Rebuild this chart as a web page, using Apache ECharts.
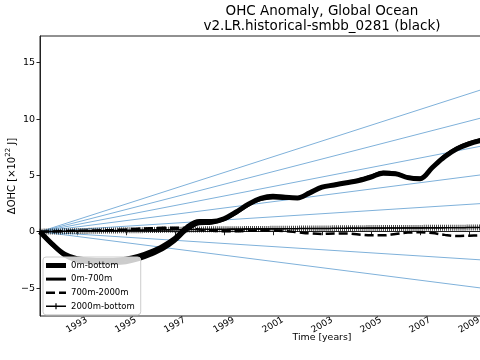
<!DOCTYPE html>
<html>
<head>
<meta charset="utf-8">
<script src="https://cdn.jsdelivr.net/npm/echarts@6/dist/echarts.min.js"></script>
<style>
html,body{margin:0;padding:0;background:#fff;}
#main{width:480px;height:360px;}
</style>
</head>
<body>
<div id="main"></div>
<script>
// ---- data ----
const titleLines = ['OHC Anomaly, Global Ocean', 'v2.LR.historical-smbb_0281 (black)'];
const xTickYears = [1993, 1995, 1997, 1999, 2001, 2003, 2005, 2007, 2009];
const yTickValues = [-5, 0, 5, 10, 15];
const seriesNames = ['0m-bottom', '0m-700m', '700m-2000m', '2000m-bottom'];

const yearsMain = [1991.5, 1992.0, 1992.5, 1993.0, 1993.5, 1994.0, 1994.5, 1995.0, 1995.5, 1996.0,
  1996.5, 1997.0, 1997.5, 1998.0, 1998.5, 1999.0, 1999.5, 2000.0, 2000.5, 2001.0,
  2001.5, 2002.0, 2002.5, 2003.0, 2003.5, 2004.0, 2004.5, 2005.0, 2005.5, 2006.0,
  2006.5, 2007.0, 2007.5, 2008.0, 2008.5, 2009.0, 2009.5];

const ohc0mBottom = [0, -1.1, -2.0, -2.4, -2.5, -2.55, -2.55, -2.45, -2.2, -1.8,
  -1.3, -0.6, 0.4, 0.9, 0.9, 1.15, 1.75, 2.45, 2.95, 3.15,
  3.05, 3.0, 3.45, 3.95, 4.15, 4.35, 4.55, 4.85, 5.2, 5.15,
  4.8, 4.7, 5.7, 6.65, 7.35, 7.8, 8.1];

const ohc0m700m = [0, -1.2, -2.15, -2.6, -2.75, -2.8, -2.8, -2.75, -2.5, -2.1,
  -1.6, -0.85, 0.15, 0.7, 0.75, 1.05, 1.65, 2.35, 2.85, 3.0,
  2.95, 2.95, 3.45, 3.95, 4.2, 4.35, 4.6, 4.95, 5.3, 5.2,
  4.85, 4.75, 5.7, 6.75, 7.45, 7.9, 8.2];

const ohc700m2000m = [0, 0.02, 0.05, 0.08, 0.1, 0.12, 0.15, 0.2, 0.27, 0.3,
  0.35, 0.35, 0.3, 0.2, 0.1, 0.05, 0.05, 0.08, 0.1, 0.1,
  0.05, -0.05, -0.15, -0.2, -0.15, -0.15, -0.25, -0.32, -0.32, -0.2,
  -0.08, -0.05, -0.12, -0.28, -0.38, -0.35, -0.32];

// monthly values starting mid-1991
const monthlyStart = 1991.5;
const ohc2000mBottom = [
  0.00,0.00,0.01,0.01,0.01,0.02,0.02,0.02,0.03,0.03,0.03,0.04,
  0.04,0.04,0.05,0.05,0.05,0.06,0.06,0.06,0.06,0.07,0.07,0.07,
  0.08,0.08,0.08,0.08,0.09,0.09,0.09,0.10,0.10,0.10,0.10,0.11,
  0.11,0.11,0.11,0.12,0.12,0.12,0.12,0.13,0.13,0.13,0.13,0.14,
  0.14,0.14,0.14,0.15,0.15,0.15,0.15,0.15,0.16,0.16,0.16,0.16,
  0.17,0.17,0.17,0.17,0.17,0.18,0.18,0.18,0.18,0.18,0.19,0.19,
  0.19,0.19,0.19,0.20,0.20,0.20,0.20,0.20,0.20,0.21,0.21,0.21,
  0.21,0.21,0.21,0.22,0.22,0.22,0.22,0.22,0.22,0.23,0.23,0.23,
  0.23,0.23,0.23,0.23,0.24,0.24,0.24,0.24,0.24,0.24,0.25,0.25,
  0.25,0.25,0.25,0.25,0.25,0.26,0.26,0.26,0.26,0.26,0.26,0.26,
  0.27,0.27,0.27,0.27,0.27,0.27,0.27,0.28,0.28,0.28,0.28,0.28,
  0.28,0.28,0.28,0.29,0.29,0.29,0.29,0.29,0.29,0.29,0.29,0.30,
  0.30,0.30,0.30,0.30,0.30,0.30,0.30,0.31,0.31,0.31,0.31,0.31,
  0.31,0.31,0.31,0.31,0.32,0.32,0.32,0.32,0.32,0.32,0.32,0.32,
  0.32,0.33,0.33,0.33,0.33,0.33,0.33,0.33,0.33,0.33,0.34,0.34,
  0.34,0.34,0.34,0.34,0.34,0.34,0.34,0.34,0.35,0.35,0.35,0.35,
  0.35,0.35,0.35,0.35,0.35,0.35,0.36,0.36,0.36,0.36,0.36,0.36,
  0.36,0.36,0.36,0.36,0.36,0.37,0.37,0.37,0.37,0.37,0.37,0.37
];

// reference trend lines (start at origin, end values at 2009.5)
const refStartYear = 1991.5;
const refEndYear = 2009.5;
const refEndValues = [12.6, 10.1, 7.6, 5.05, 2.5, -2.5, -5.0];

// ---- chart ----
const FONT = 'DejaVu Sans';
const plus = 'path://M0,4.4H10V5.6H0Z M4.4,0H5.6V10H4.4Z';
// legend icons: 20x8 bounding box (moveTo corners fix the box), shapes mimic line styles
const legendIcons = [
  'path://M0,0M20,8M0,1.5H20V6.5H0Z',
  'path://M0,0M20,8M0,2.5H20V5.5H0Z',
  'path://M0,0M20,8M0,2.75H9V5.25H0Z M13,2.75H20V5.25H13Z',
  'path://M0,0M20,8M0,3.3H20V4.7H0Z M9.4,1H10.6V7H9.4Z'
];
const fmtY = v => (v < 0 ? '\u2212' + Math.abs(v) : String(v));
const pair = (xs, ys) => ys.map((y, i) => [xs[i], y]);
const months = ohc2000mBottom.map((_, i) => monthlyStart + i / 12);

const refSeries = refEndValues.map(v => ({
  type: 'line', silent: true, symbol: 'none', z: 1,
  lineStyle: { color: '#7fb1da', width: 1 },
  data: [[refStartYear, 0], [refEndYear, v]]
}));

const option = {
  animation: false,
  backgroundColor: '#fff',
  textStyle: { fontFamily: FONT },
  title: {
    text: titleLines.join('\n'),
    left: 322, top: 4, padding: 0,
    textAlign: 'center',
    textStyle: { fontFamily: FONT, fontSize: 13.5, fontWeight: 'normal', color: '#000', lineHeight: 15 }
  },
  grid: {
    left: 40, right: -124, top: 36, bottom: 44,
    show: true, borderColor: '#222', borderWidth: 1, backgroundColor: 'transparent',
    outerBoundsMode: 'none', containLabel: false
  },
  legend: {
    orient: 'vertical', left: 43, top: 257,
    itemWidth: 20, itemHeight: 8, itemGap: 4.6,
    padding: [4, 6, 4, 3],
    backgroundColor: 'rgba(255,255,255,0.8)', borderColor: '#cccccc', borderWidth: 1, borderRadius: 3,
    textStyle: { fontFamily: FONT, fontSize: 8.5, color: '#000' },
    data: seriesNames.map((n, i) => ({ name: n, icon: legendIcons[i], itemStyle: { color: '#000' } }))
  },
  xAxis: {
    type: 'value', min: 1991.5, max: 2014.5,
    name: 'Time [years]', nameLocation: 'middle', nameGap: 17, nameMoveOverlap: false,
    nameTextStyle: { fontFamily: FONT, fontSize: 9.4, color: '#000' },
    splitLine: { show: false },
    axisLine: { show: true, lineStyle: { color: '#222', width: 1 } },
    axisTick: { show: true, length: 3.5, customValues: xTickYears, lineStyle: { color: '#222' } },
    axisLabel: { customValues: xTickYears, rotate: 30, fontSize: 9, color: '#000', margin: 9,
      align: 'center', verticalAlign: 'middle', fontFamily: FONT,
      formatter: v => String(v) }
  },
  yAxis: {
    type: 'value', min: -7.48, max: 17.37,
    name: 'ΔOHC [×10{s|22} J]', nameLocation: 'middle', nameGap: 21, nameMoveOverlap: false,
    nameTextStyle: { fontFamily: FONT, fontSize: 10, color: '#000', lineHeight: 14,
      rich: { s: { fontFamily: FONT, fontSize: 7, color: '#000', verticalAlign: 'top', lineHeight: 14, padding: [0, 0, 3, 0] } } },
    splitLine: { show: false },
    axisLine: { show: true, lineStyle: { color: '#222', width: 1 } },
    axisTick: { show: true, length: 3.5, customValues: yTickValues, lineStyle: { color: '#222' } },
    axisLabel: { customValues: yTickValues, fontSize: 9.5, color: '#000', margin: 5, fontFamily: FONT,
      formatter: fmtY }
  },
  series: refSeries.concat([
    {
      name: seriesNames[0], type: 'line', smooth: 0.35, symbol: 'none', z: 3,
      lineStyle: { color: '#000', width: 5 }, itemStyle: { color: '#000' },
      data: pair(yearsMain, ohc0mBottom)
    },
    {
      name: seriesNames[1], type: 'line', smooth: 0.35, symbol: 'none', z: 3,
      lineStyle: { color: '#000', width: 3 }, itemStyle: { color: '#000' },
      data: pair(yearsMain, ohc0m700m)
    },
    {
      name: seriesNames[2], type: 'line', smooth: 0.35, symbol: 'none', z: 3,
      lineStyle: { color: '#000', width: 2.5, type: [9, 4] }, itemStyle: { color: '#000' },
      data: pair(yearsMain, ohc700m2000m)
    },
    {
      name: seriesNames[3], type: 'line', symbol: plus, symbolSize: 6, showAllSymbol: true, z: 3,
      lineStyle: { color: '#000', width: 1.5 }, itemStyle: { color: '#000' },
      data: pair(months, ohc2000mBottom)
    }
  ])
};

const chart = echarts.init(document.getElementById('main'), null, { renderer: 'canvas', width: 480, height: 360 });
chart.setOption(option);
</script>
</body>
</html>
